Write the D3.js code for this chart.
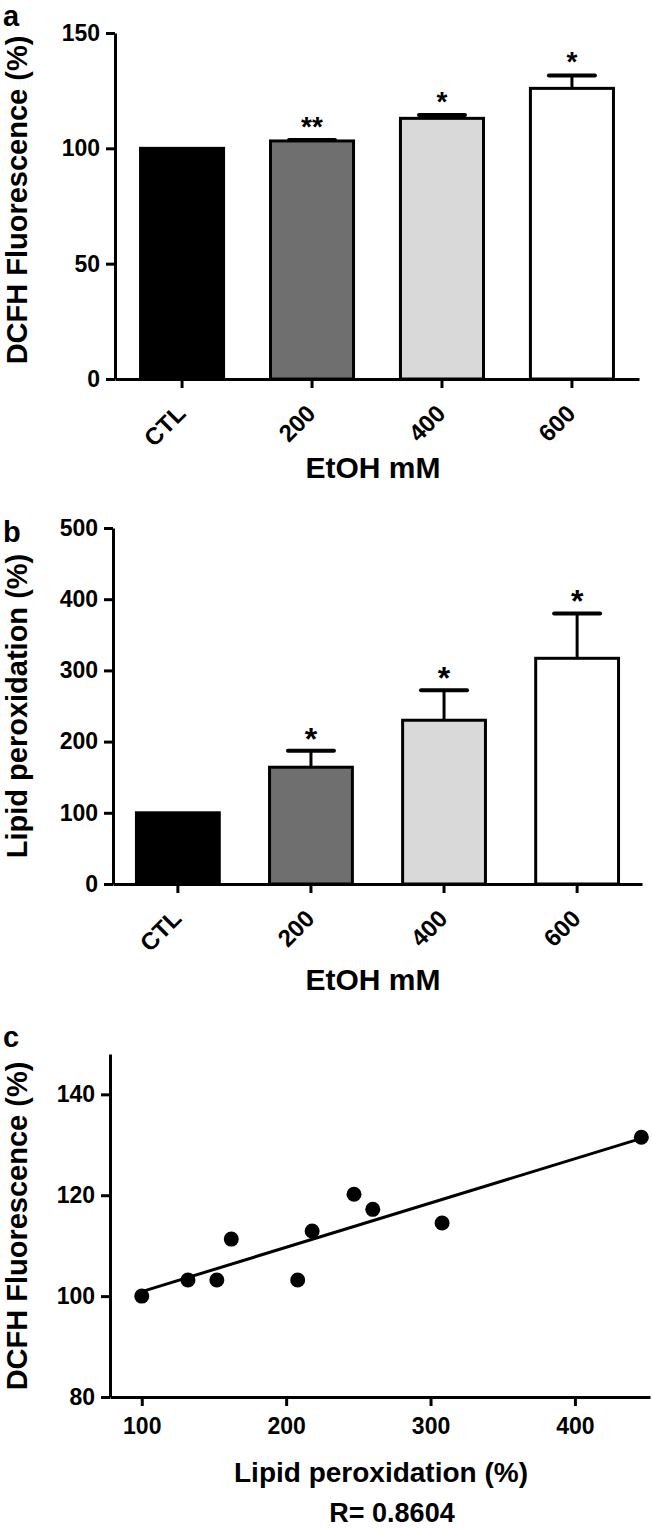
<!DOCTYPE html>
<html>
<head>
<meta charset="utf-8">
<script src="https://cdn.jsdelivr.net/npm/d3@7"></script>
<style>
  html, body { margin: 0; padding: 0; background: #fff; }
  svg { display: block; }
  text { font-family: "Liberation Sans", Arial, sans-serif; font-weight: bold; fill: #000; }
</style>
</head>
<body>
<div id="app"></div>
<script>
// data
var doses = ["CTL", "200", "400", "600"];
var dcfhMean = [100, 103.2, 113, 126];
var dcfhSem = [0, 0.4, 1.4, 5.6];
var dcfhStars = ["", "**", "*", "*"];
var lipidMean = [100, 164, 230, 317];
var lipidSem = [0, 23, 42, 63];
var lipidStars = ["", "*", "*", "*"];
var barFills = ["#000000", "#6f6f6f", "#d9d9d9", "#ffffff"];
var corrLipid = [100, 132, 152, 162, 208, 218, 247, 260, 308, 446];
var corrDcfh = [100, 103.2, 103.2, 111.3, 103.2, 112.9, 120.2, 117.2, 114.5, 131.5];
var dcfhTicks = [0, 50, 100, 150];
var lipidTicks = [0, 100, 200, 300, 400, 500];
var corrYTicks = [80, 100, 120, 140];
var corrXTicks = [100, 200, 300, 400];
var rText = "R= 0.8604";

var width = 652, height = 1529;
var svg = d3.select("#app").append("svg").attr("width", width).attr("height", height);

function styleAxis(g, fontSize) {
  g.selectAll("path, line").attr("stroke", "#000").attr("stroke-width", 3);
  g.selectAll("text").attr("font-size", fontSize);
  g.attr("font-family", null).attr("font-size", null);
}

function barPanel(opts) {
  var x = d3.scaleBand().domain(doses).range([opts.x0, opts.x1])
    .paddingInner(opts.pi).paddingOuter(opts.po);
  var y = d3.scaleLinear().domain([0, opts.ymax]).range([opts.y0, opts.y1]);
  var g = svg.append("g");
  var bw = x.bandwidth();

  g.selectAll("rect.bar").data(doses).join("rect")
    .attr("x", function (d) { return x(d) + 1.5; })
    .attr("width", bw - 3)
    .attr("y", function (d, i) { return y(opts.mean[i]); })
    .attr("height", function (d, i) { return y(0) - y(opts.mean[i]); })
    .attr("fill", function (d, i) { return barFills[i]; })
    .attr("stroke", "#000").attr("stroke-width", 3);

  // upper error bars only
  var eb = g.selectAll("g.err").data(doses).join("g").attr("class", "err")
    .filter(function (d, i) { return opts.sem[i] > 0; });
  eb.append("line")
    .attr("x1", function (d) { return x(d) + bw / 2; })
    .attr("x2", function (d) { return x(d) + bw / 2; })
    .attr("y1", function (d) { var i = doses.indexOf(d); return y(opts.mean[i]); })
    .attr("y2", function (d) { var i = doses.indexOf(d); return y(opts.mean[i] + opts.sem[i]); })
    .attr("stroke", "#000").attr("stroke-width", 3);
  eb.append("line")
    .attr("x1", function (d) { return x(d) + bw / 2 - 23; })
    .attr("x2", function (d) { return x(d) + bw / 2 + 23; })
    .attr("y1", function (d) { var i = doses.indexOf(d); return y(opts.mean[i] + opts.sem[i]); })
    .attr("y2", function (d) { var i = doses.indexOf(d); return y(opts.mean[i] + opts.sem[i]); })
    .attr("stroke", "#000").attr("stroke-width", 4).attr("stroke-linecap", "round");

  g.selectAll("text.star").data(doses).join("text")
    .attr("x", function (d) { return x(d) + bw / 2; })
    .attr("y", function (d, i) { return y(opts.mean[i] + opts.sem[i]) + opts.starDy; })
    .attr("text-anchor", "middle")
    .attr("font-size", opts.starSize)
    .attr("font-weight", "normal")
    .text(function (d, i) { return opts.stars[i]; });

  var ya = g.append("g").attr("transform", "translate(" + opts.x0 + ",0)")
    .call(d3.axisLeft(y).tickValues(opts.ticks).tickSize(9).tickSizeOuter(0).tickPadding(6));
  styleAxis(ya, 23);

  var xa = g.append("g").attr("transform", "translate(0," + opts.y0 + ")")
    .call(d3.axisBottom(x).tickSize(9).tickSizeOuter(0));
  styleAxis(xa, 24);
  xa.selectAll("text")
    .attr("text-anchor", "end")
    .attr("dy", null).attr("y", null)
    .attr("transform", "translate(5,36) rotate(-45)");

  g.append("text").attr("x", 373).attr("y", opts.xTitleY)
    .attr("text-anchor", "middle").attr("font-size", 30).text("EtOH mM");
  g.append("text")
    .attr("transform", "translate(" + opts.yTitleX + "," + opts.yTitleMid + ") rotate(-90)")
    .attr("text-anchor", "middle").attr("font-size", 29).text(opts.yTitle);
  g.append("text").attr("x", 3).attr("y", opts.letterY).attr("font-size", 29).text(opts.letter);
}

barPanel({
  x0: 115, x1: 639, pi: 0.338, po: 0.185,
  y0: 379, y1: 33, ymax: 150, ticks: dcfhTicks,
  mean: dcfhMean, sem: dcfhSem, stars: dcfhStars, starDy: -4, starSize: 28,
  xTitleY: 478, yTitleX: 27, yTitleMid: 200, yTitle: "DCFH Fluorescence (%)",
  letter: "a", letterY: 26
});

barPanel({
  x0: 113, x1: 642, pi: 0.355, po: 0.165,
  y0: 884, y1: 528, ymax: 500, ticks: lipidTicks,
  mean: lipidMean, sem: lipidSem, stars: lipidStars, starDy: -1, starSize: 32,
  xTitleY: 990, yTitleX: 27, yTitleMid: 706, yTitle: "Lipid peroxidation (%)",
  letter: "b", letterY: 542
});

// panel c: correlation
(function () {
  var x = d3.scaleLinear().domain([78, 452]).range([110, 650]);
  var y = d3.scaleLinear().domain([80, 148]).range([1397, 1054]);
  var g = svg.append("g");

  var pts = corrLipid.map(function (v, i) { return [v, corrDcfh[i]]; });
  var mx = d3.mean(corrLipid), my = d3.mean(corrDcfh);
  var sxy = d3.sum(pts, function (p) { return (p[0] - mx) * (p[1] - my); });
  var sxx = d3.sum(pts, function (p) { return (p[0] - mx) * (p[0] - mx); });
  var slope = sxy / sxx, icpt = my - slope * mx;
  var ext = d3.extent(corrLipid);
  g.append("path")
    .datum(ext.map(function (v) { return [v, icpt + slope * v]; }))
    .attr("fill", "none").attr("stroke", "#000").attr("stroke-width", 3)
    .attr("d", d3.line().x(function (d) { return x(d[0]); }).y(function (d) { return y(d[1]); }));

  g.selectAll("circle").data(pts).join("circle")
    .attr("cx", function (d) { return x(d[0]); })
    .attr("cy", function (d) { return y(d[1]); })
    .attr("r", 7.5).attr("fill", "#000");

  var ya = g.append("g").attr("transform", "translate(110,0)")
    .call(d3.axisLeft(y).tickValues(corrYTicks).tickSize(9).tickSizeOuter(0).tickPadding(6));
  styleAxis(ya, 23);
  var xa = g.append("g").attr("transform", "translate(0,1397)")
    .call(d3.axisBottom(x).tickValues(corrXTicks).tickSize(9).tickSizeOuter(0).tickPadding(12));
  styleAxis(xa, 23);

  g.append("text").attr("x", 381).attr("y", 1482).attr("text-anchor", "middle")
    .attr("font-size", 28).text("Lipid peroxidation (%)");
  g.append("text").attr("x", 392).attr("y", 1522).attr("text-anchor", "middle")
    .attr("font-size", 27).text(rText);
  g.append("text")
    .attr("transform", "translate(27,1226) rotate(-90)")
    .attr("text-anchor", "middle").attr("font-size", 29).text("DCFH Fluorescence (%)");
  g.append("text").attr("x", 3).attr("y", 1047).attr("font-size", 29).text("c");
})();
</script>
</body>
</html>
